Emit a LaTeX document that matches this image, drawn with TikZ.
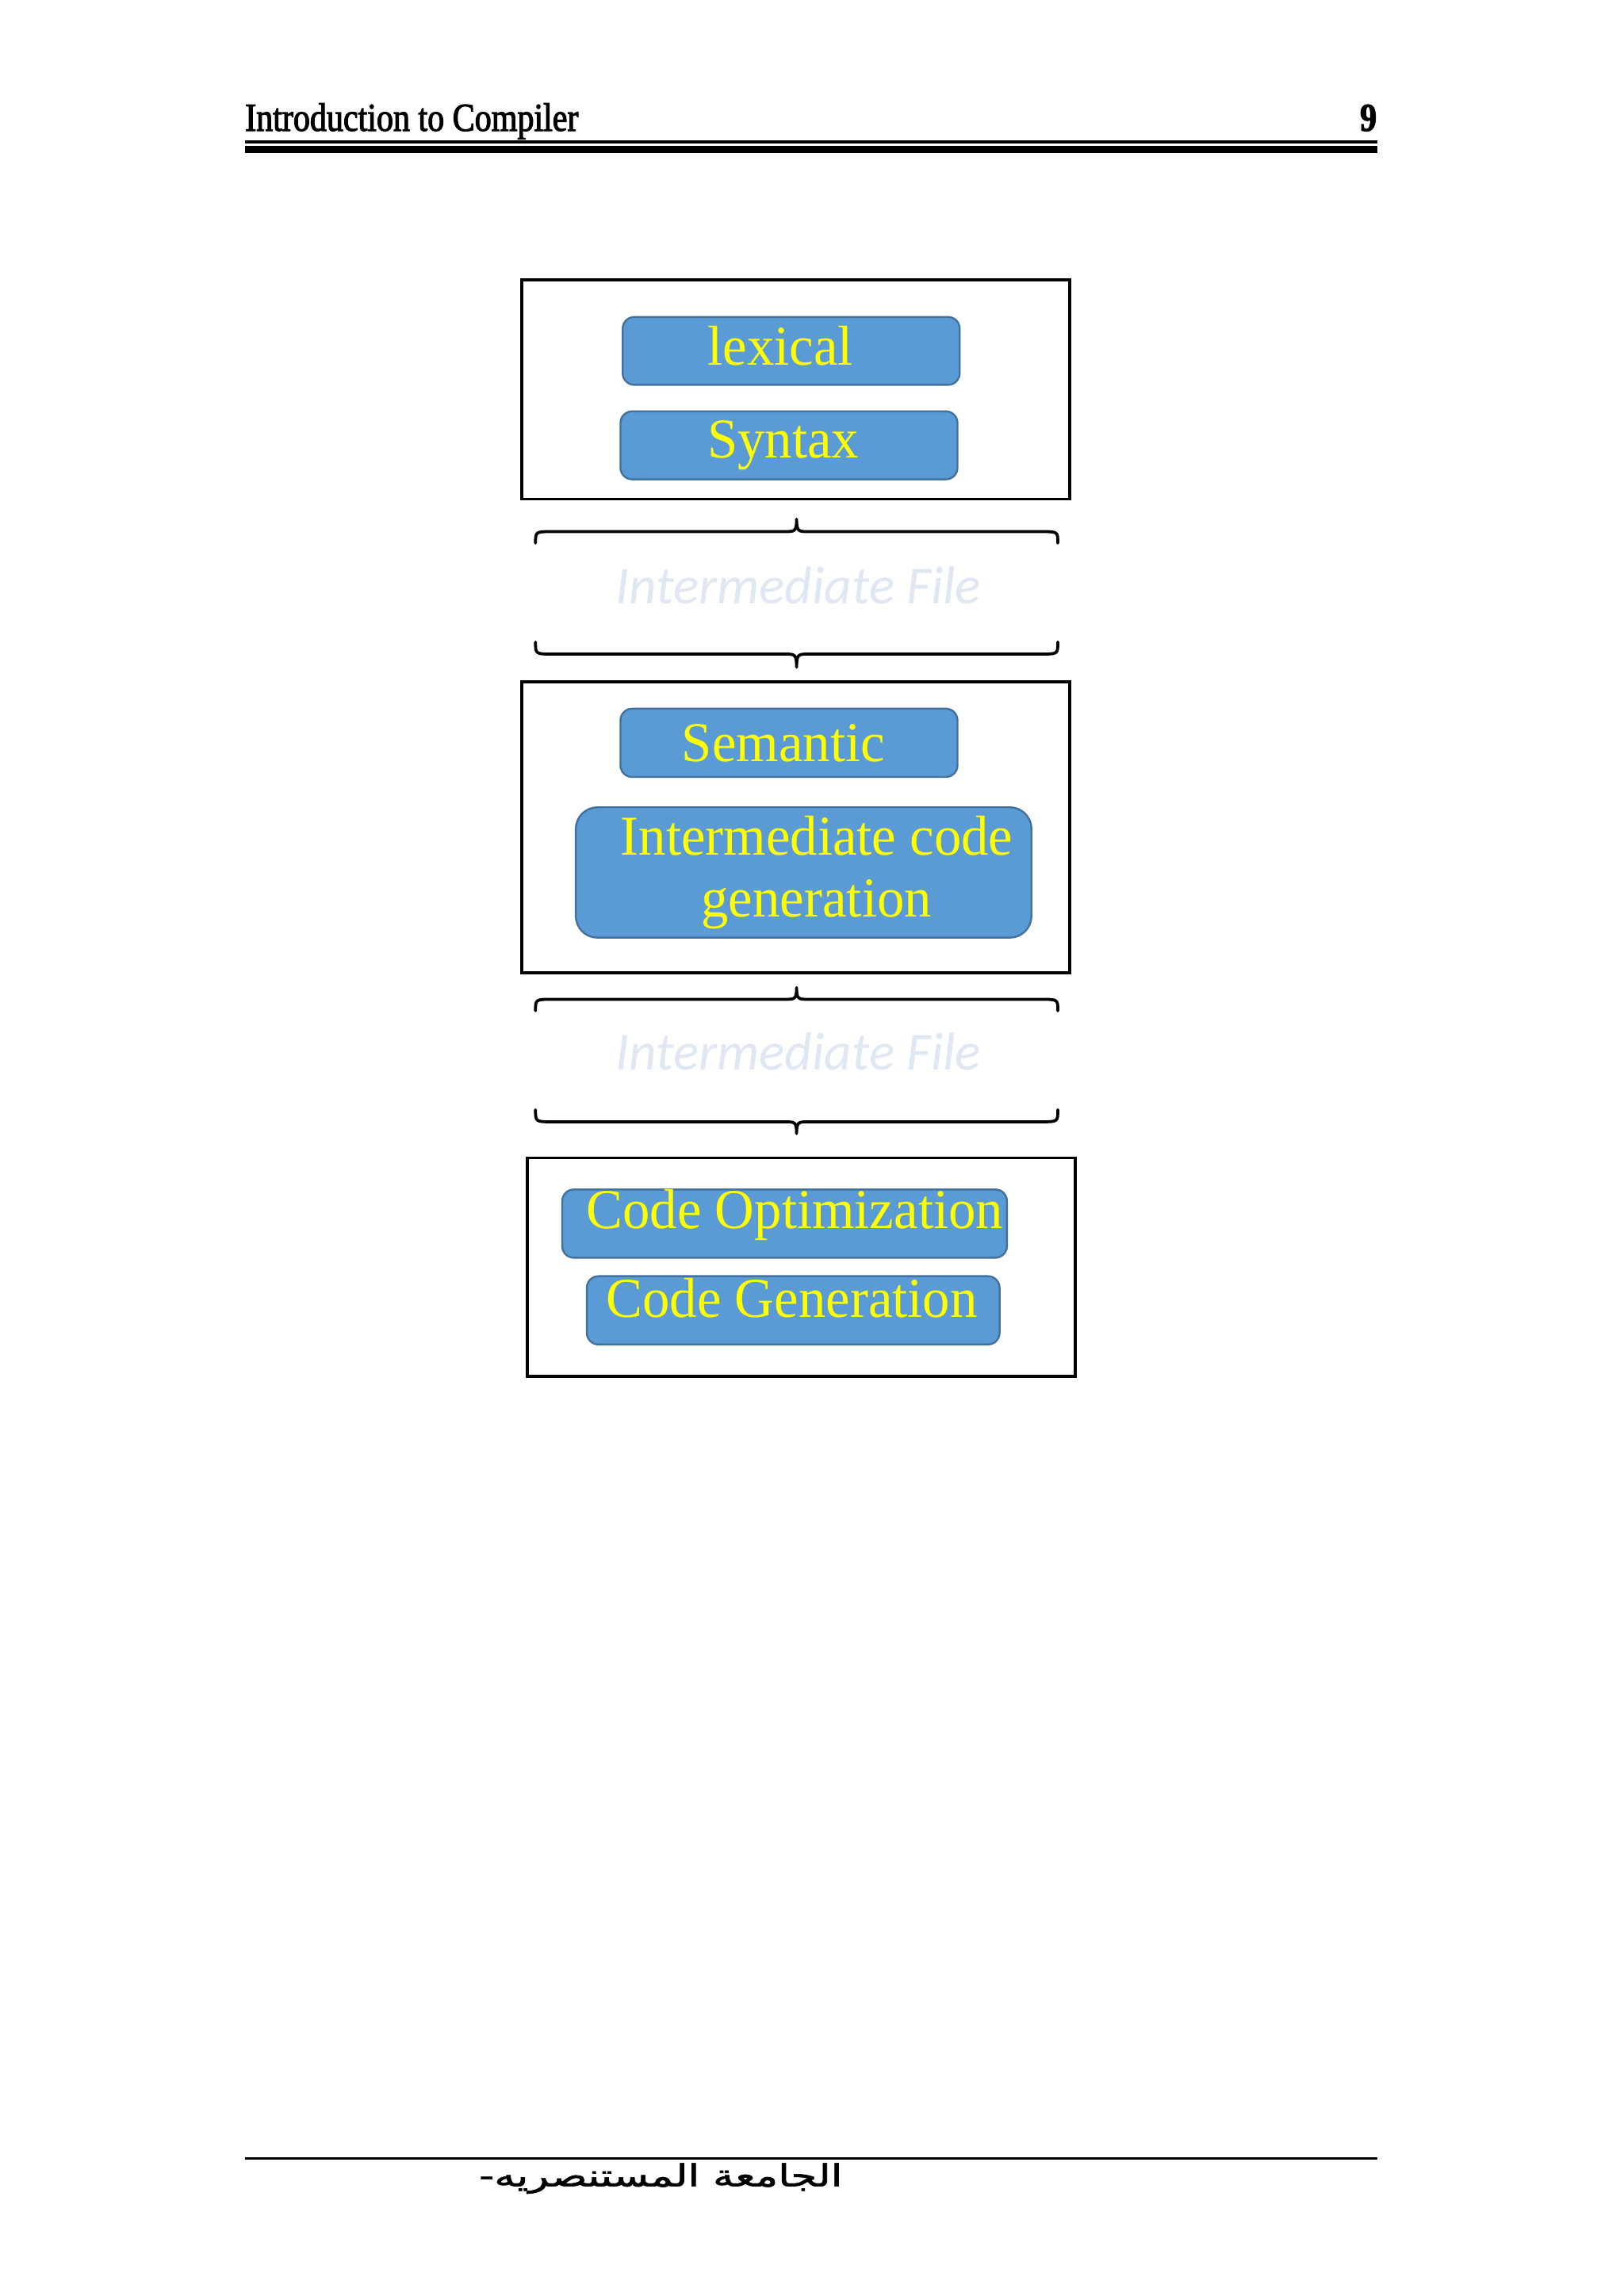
\documentclass[tikz,border=0pt]{standalone}
\usepackage{fontspec}
\usepackage{graphicx}
\setmainfont{Liberation Serif}
\newfontfamily\boxfont[FakeStretch=0.97]{Liberation Serif}
\newfontfamily\interfont{Carlito}
\newfontfamily\headfont[FakeStretch=0.84,FakeBold=2.2]{Liberation Serif}
\newfontfamily\arabicfont[Script=Arabic,FakeBold=1.5]{DejaVu Sans}
\TeXXeTstate=1
\definecolor{boxblue}{HTML}{5B9BD5}
\definecolor{boxedge}{HTML}{41719C}
\definecolor{boxtext}{HTML}{FFFF00}
\definecolor{filetext}{HTML}{DEE7F3}
\newcommand{\pxu}{0.018949cm}
\newcommand{\hbr}[3]{%
  \draw[bracestyle] (365.5,#3) .. controls (365.5,#1) .. (377,#1) -- (535.5,#1)
    .. controls (542.5,#1) and (543.7,#1) .. (543.7,#2) .. controls (543.7,#1) and (544.9,#1) .. (551.9,#1)
    -- (710.5,#1) .. controls (722,#1) .. (722,#3);}
\tikzset{
  outerbox/.style={draw=black, line width=1.1pt, rectangle, inner sep=0pt},
  rbox/.style={draw=boxedge, fill=boxblue, line width=0.7pt, rectangle,
    rounded corners=0.15cm, inner sep=0pt},
  btext/.style={anchor=base, inner sep=0pt, text=boxtext,
    font=\boxfont\fontsize{20.7pt}{22.8pt}\selectfont},
  ftext/.style={anchor=base, inner sep=0pt, text=filetext,
    font=\interfont\itshape\fontsize{19.6pt}{22pt}\selectfont},
  bracestyle/.style={draw=black, line width=1.1pt, line cap=round, line join=round},
}
\begin{document}
\begin{tikzpicture}[x=0.018949cm, y=-0.018949cm]
\useasboundingbox[fill=white] (0,0) rectangle (1108.2,1567.4);

% header
\node[anchor=base west, inner sep=0pt, font=\headfont\fontsize{14.6pt}{16pt}\selectfont] (htitle) at (167,89.3) {Introduction to Compiler};
\node[anchor=base east, inner sep=0pt, font=\headfont\bfseries\fontsize{14.6pt}{16pt}\selectfont] (hpage) at (940,89.3) {9};
\draw[line width=0.95pt] (167,96.9) -- (940,96.9);
\draw[line width=2.5pt] (167,102) -- (940,102);

% box 1
\node[outerbox, minimum width=374*\pxu, minimum height=149.5*\pxu] (box1) at (543,266) {};
\node[rbox, minimum width=230*\pxu, minimum height=46.3*\pxu] (lex) at (540,239.55) {};
\node[btext] (lext) at (532.7,249) {lexical};
\node[rbox, minimum width=230*\pxu, minimum height=46.4*\pxu] (syn) at (538.5,304) {};
\node[btext] (synt) at (534.6,312.3) {Syntax};

% intermediate file 1
\hbr{362.9}{354.4}{370.7}
\node[ftext] (file1) at (545,412.2) {Intermediate File};
\hbr{446.5}{455.5}{438.3}

% box 2
\node[outerbox, minimum width=374*\pxu, minimum height=198.6*\pxu] (box2) at (543,564.7) {};
\node[rbox, minimum width=230*\pxu, minimum height=46.6*\pxu] (sem) at (538.5,507.1) {};
\node[btext] (semt) at (534.6,519.6) {Semantic};
\node[rbox, rounded corners=0.28cm, minimum width=311*\pxu, minimum height=89*\pxu] (icg) at (548.5,595.6) {};
\node[btext] (icgt1) at (557.5,583.6) {Intermediate code};
\node[btext] (icgt2) at (557.3,626.1) {generation};

% intermediate file 2
\hbr{682.2}{674.2}{690}
\node[ftext] (file2) at (545,730.6) {Intermediate File};
\hbr{765.8}{773.9}{757.6}

% box 3
\node[outerbox, minimum width=374*\pxu, minimum height=149.1*\pxu] (box3) at (547,865) {};
\node[rbox, minimum width=303.5*\pxu, minimum height=46.6*\pxu] (opt) at (535.5,835.3) {};
\node[btext] (optt) at (542.5,838.7) {Code Optimization};
\node[rbox, minimum width=281.7*\pxu, minimum height=46.6*\pxu] (gen) at (541.4,894.5) {};
\node[btext] (gent) at (540.5,899.2) {Code Generation};

% footer
\draw[line width=0.8pt] (167,1473.4) -- (940,1473.4);
\node[anchor=base, inner sep=0pt] (foot) at (451,1492.5) {\resizebox{4.70cm}{0.30cm}{\arabicfont\beginR الجامعة المستنصريه-\endR}};
\end{tikzpicture}
\end{document}
